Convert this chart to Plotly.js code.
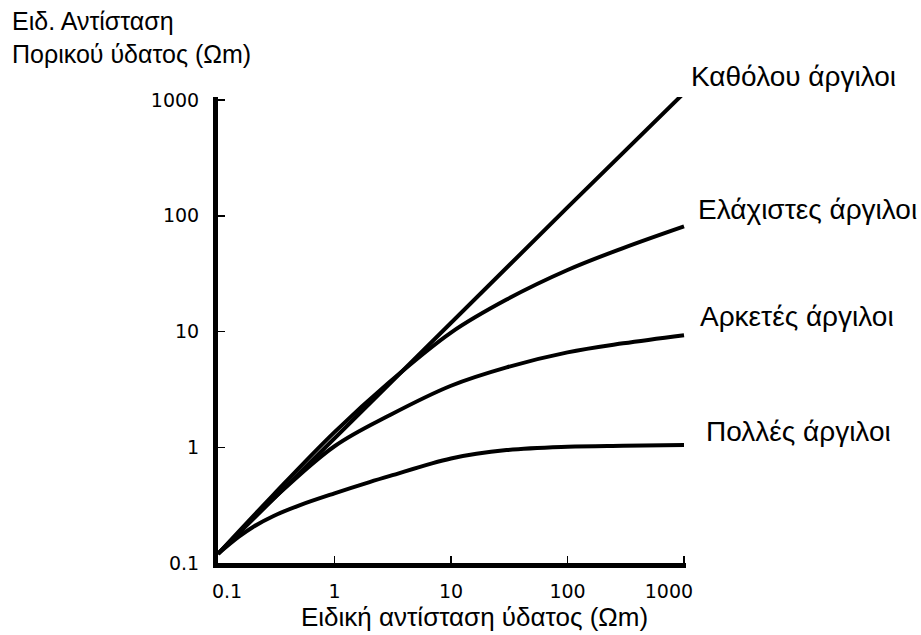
<!DOCTYPE html>
<html><head><meta charset="utf-8">
<script src="https://cdn.plot.ly/plotly-3.0.1.min.js"></script>
<style>html,body{margin:0;padding:0;background:#fff}</style>
</head><body><div id="chart" style="width:921px;height:635px"></div>
<script>
// tick values / labels
const tickValues = [0.1, 1, 10, 100, 1000];
const xTickText = ['\u00a0\u00a0\u00a00.1', '1', '10', '100', '1000\u00a0\u00a0\u00a0\u00a0\u00a0'];
const yTickText = ['0.1', '1', '10', '100', '1000'];

// series (water resistivity -> pore-water resistivity)
const noClayX = [0.1, 1, 10, 100, 1000];
const noClayY = [0.12, 1.2, 12, 118, 1150];

const fewClayX = [0.1, 0.3, 1, 3, 10, 30, 100, 300, 1000];
const fewClayY = [0.12, 0.39, 1.35, 3.7, 9.8, 18.9, 34, 52.6, 81];

const someClayX = [0.1, 0.3, 1, 3, 10, 30, 100, 300, 1000];
const someClayY = [0.12, 0.36, 1.02, 1.9, 3.4, 4.9, 6.6, 7.9, 9.3];

const manyClayX = [0.1, 0.15, 0.2, 0.3, 0.5, 1, 2, 3, 10, 30, 100, 300, 1000];
const manyClayY = [0.12, 0.168, 0.205, 0.255, 0.315, 0.40, 0.50, 0.565, 0.80, 0.945, 1.01, 1.03, 1.045];

const seriesNames = ['Καθόλου άργιλοι', 'Ελάχιστες άργιλοι', 'Αρκετές άργιλοι', 'Πολλές άργιλοι'];
const xTitle = 'Ειδική αντίσταση ύδατος (Ωm)';
const yTitle = 'Ειδ. Αντίσταση<br>Πορικού ύδατος (Ωm)';

// layout geometry
const W = 921, H = 635, L = 218, R = 235, T = 97, B = 72;
const pw = W - L - R, ph = H - T - B;
const px = v => (v - L) / pw;
const py = v => (H - B - v) / ph;

const lineStyle = {color: '#000', width: 4, shape: 'spline', smoothing: 1};
const allX = [noClayX, fewClayX, someClayX, manyClayX];
const allY = [noClayY, fewClayY, someClayY, manyClayY];
const traces = allX.map((xs, i) => ({
  x: xs, y: allY[i], type: 'scatter', mode: 'lines', name: seriesNames[i],
  line: Object.assign({}, lineStyle, i === 0 ? {shape: 'linear'} : {}),
  hoverinfo: 'skip', cliponaxis: false
}));

const fam = 'Liberation Sans, Arial, sans-serif';
const labelFont = {family: fam, size: 28, color: '#000'};
const labelPos = [[689, 76], [696, 209], [698, 316], [704, 431]];
const annotations = seriesNames.map((t, i) => ({
  text: t, xref: 'paper', yref: 'paper', x: px(labelPos[i][0]), y: py(labelPos[i][1]),
  xanchor: 'left', yanchor: 'middle', showarrow: false, font: labelFont
}));
annotations.push({text: xTitle, xref: 'paper', yref: 'paper', x: px(474), y: py(617),
  xanchor: 'center', yanchor: 'middle', showarrow: false, font: {family: fam, size: 26, color: '#000'}});
annotations.push({text: yTitle, xref: 'paper', yref: 'paper', x: px(10), y: py(5),
  xanchor: 'left', yanchor: 'top', align: 'left', showarrow: false,
  font: {family: fam, size: 25, color: '#000'}});

const tickFont = {family: 'DejaVu Sans, sans-serif', size: 19, color: '#000'};
const axisCommon = {
  type: 'log', showgrid: false, zeroline: false, showline: true, linewidth: 5, linecolor: '#000',
  ticks: 'inside', ticklen: 7, tickwidth: 1.5, tickcolor: '#000', tickvals: tickValues,
  tickfont: tickFont, fixedrange: true
};
const layout = {
  width: W, height: H, margin: {l: L, r: R, t: T, b: B},
  paper_bgcolor: '#fff', plot_bgcolor: '#fff', showlegend: false,
  xaxis: Object.assign({}, axisCommon, {range: [-1, 3.017], ticktext: xTickText, ticklabelstandoff: 7}),
  yaxis: Object.assign({}, axisCommon, {range: [-1, 3.026], ticktext: yTickText, ticklabelstandoff: 10}),
  annotations: annotations
};
Plotly.newPlot('chart', traces, layout, {displayModeBar: false, staticPlot: true});
</script></body></html>
